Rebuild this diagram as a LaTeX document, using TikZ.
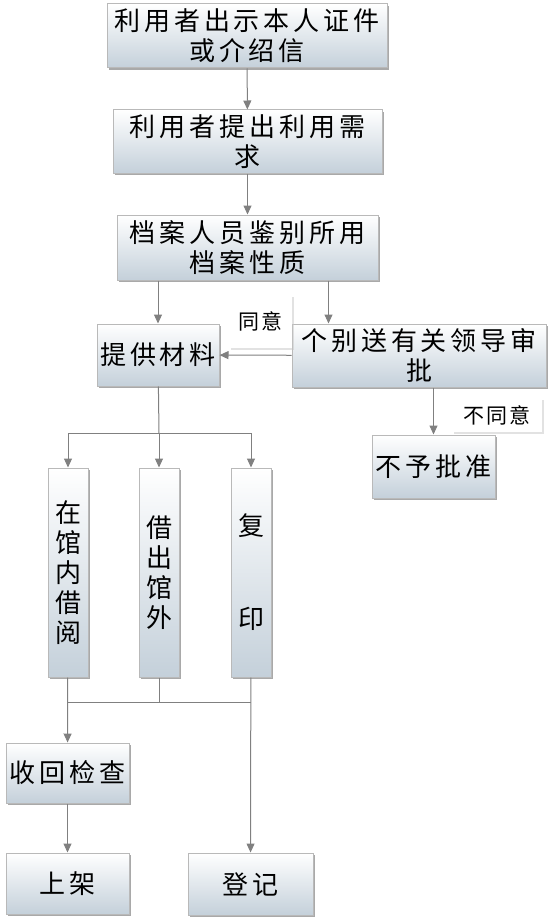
\documentclass[tikz,border=0pt]{standalone}
\usepackage{fontspec}
\usepackage{xcolor}
\usepackage{tikz}
\usetikzlibrary{arrows.meta, calc, shadows}
\newfontfamily\boxfont{Noto Sans CJK SC}[LetterSpace=15]
\newfontfamily\labfont{Noto Sans CJK SC}[LetterSpace=10]
\definecolor{boxblue}{RGB}{196,208,218}
\definecolor{linegray}{RGB}{128,128,128}
\tikzset{
    stepbox/.style={draw=gray!55, top color=white, bottom color=boxblue, inner sep=0pt, align=center,
        font=\boxfont\fontsize{26}{30}\selectfont,
        drop shadow={shadow xshift=2pt, shadow yshift=-2pt, fill=gray!85, opacity=0.8}},
    tallbox/.style={stepbox, minimum width=40pt, minimum height=209pt},
    labbox/.style={fill=white, inner sep=0pt, font=\labfont\fontsize{21}{24}\selectfont,
        drop shadow={shadow xshift=1.5pt, shadow yshift=-1.5pt, fill=gray!45}},
    flow/.style={>={Triangle[length=9pt, width=8pt]}, draw=linegray, line width=1pt, x=1pt, y=-1pt}
}

\begin{document}
\begin{tikzpicture}[flow]
        \useasboundingbox (0,0) rectangle (552,923);

        \node[stepbox, minimum width=280pt, minimum height=64pt] (show) at (247,36) {利用者出示本人证件\\或介绍信};
        \node[stepbox, minimum width=269pt, minimum height=63pt] (need) at (247.5,141.5) {利用者提出利用需\\求};
        \node[stepbox, minimum width=261pt, minimum height=65pt] (judge) at (247.5,247.5) {档案人员鉴别所用\\档案性质};
        \node[stepbox, minimum width=122pt, minimum height=62pt] (give) at (158,355) {提供材料};
        \node[stepbox, minimum width=254pt, minimum height=63pt] (lead) at (419,355.5) {个别送有关领导审\\批};
        \node[stepbox, minimum width=123pt, minimum height=63pt] (deny) at (433.5,466.5) {不予批准};
        \node[labbox, minimum width=63pt, minimum height=53pt] (yes) at (260.5,321.5) {同意};
        \node[labbox, minimum width=90pt, minimum height=34pt] (no) at (497,415) {不同意};

        \node[tallbox] (read) at (68,572.5) {在\\馆\\内\\借\\阅};
        \node[tallbox] (lend) at (159,572.5) {借\\出\\馆\\外};
        \node[tallbox] (copy) at (251,572.5) {复\\[63pt]印};

        \node[stepbox, minimum width=123pt, minimum height=60pt] (check) at (67.5,773) {收回检查};
        \node[stepbox, minimum width=123pt, minimum height=61pt] (shelf) at (67.5,883.5) {上架};
        \node[stepbox, minimum width=125pt, minimum height=62pt] (reg) at (250.5,884) {登记};

        \coordinate (leadin) at ($(lead.north west)+(37,0)$);
        \coordinate (fork) at (159,433);
        \coordinate (join) at (159,702);

        \draw[->] (show) -- (need);
        \draw[->] (need) -- (judge);
        \draw[->] (give |- judge.south) -- (give);
        \draw[->] (leadin |- judge.south) -- (leadin);
        \draw[->] (lead) -- (give);
        \draw[->] (deny |- lead.south) -- (deny);

        \draw (give) -- (fork);
        \draw[->] (fork) -| (read);
        \draw[->] (fork) -- (lend);
        \draw[->] (fork) -| (copy);

        \draw (read.south |- join) -- (copy.south |- join);
        \draw (lend) -- (join);
        \draw[->] (read) -- (check);
        \draw[->] (check) -- (shelf);
        \draw[->] (copy) -- (reg);
    \end{tikzpicture}
\end{document}
